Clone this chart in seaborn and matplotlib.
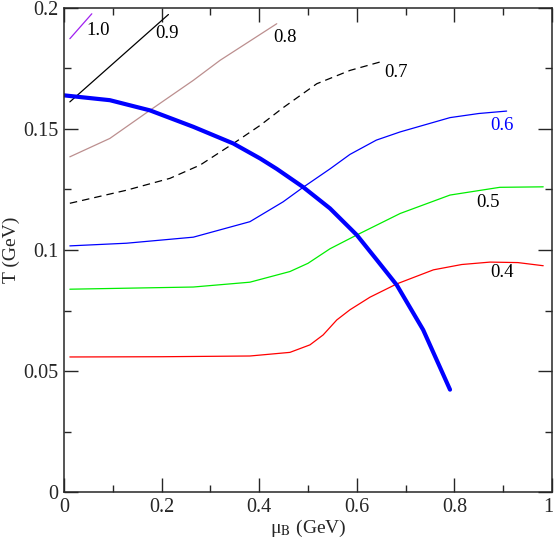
import pandas as pd
import matplotlib
matplotlib.use("Agg")
import matplotlib.pyplot as plt
import matplotlib.transforms as mtransforms
import seaborn as sns

# thick blue boundary curve
mu_bnd = [0.0, 0.094, 0.176, 0.265, 0.347, 0.402, 0.436, 0.49, 0.545, 0.600, 0.641, 0.682, 0.736, 0.791]
T_bnd = [0.1639, 0.1619, 0.1577, 0.1509, 0.1440, 0.1378, 0.1335, 0.1260, 0.1172, 0.1062, 0.0959, 0.0855, 0.0670, 0.0423]

# contour lines
mu_04 = [0.012, 0.2, 0.381, 0.463, 0.504, 0.531, 0.559, 0.586, 0.627, 0.682, 0.757, 0.815, 0.873, 0.930, 0.982]
T_04 = [0.0558, 0.0559, 0.0562, 0.0577, 0.0608, 0.0649, 0.0711, 0.0753, 0.0805, 0.0860, 0.0918, 0.0940, 0.0950, 0.0948, 0.0935]

mu_05 = [0.012, 0.265, 0.381, 0.463, 0.50, 0.545, 0.600, 0.689, 0.791, 0.893, 0.982]
T_05 = [0.0838, 0.0847, 0.0867, 0.0911, 0.0945, 0.1005, 0.1062, 0.1151, 0.1227, 0.1259, 0.1261]

mu_06 = [0.012, 0.128, 0.265, 0.381, 0.449, 0.490, 0.545, 0.586, 0.640, 0.689, 0.791, 0.850, 0.907]
T_06 = [0.1017, 0.1028, 0.1053, 0.1117, 0.1199, 0.1259, 0.1335, 0.1395, 0.1454, 0.1488, 0.1547, 0.1564, 0.1574]

mu_07 = [0.012, 0.128, 0.217, 0.279, 0.347, 0.402, 0.449, 0.518, 0.586, 0.648]
T_07 = [0.1193, 0.1247, 0.1296, 0.1351, 0.1440, 0.1515, 0.1588, 0.1687, 0.1742, 0.1777]

mu_08 = [0.012, 0.094, 0.176, 0.265, 0.320, 0.436]
T_08 = [0.1385, 0.1461, 0.1577, 0.1701, 0.1784, 0.1935]

mu_09 = [0.012, 0.214]
T_09 = [0.1612, 0.1973]

mu_10 = [0.012, 0.057]
T_10 = [0.1873, 0.1976]

labels = ["0.4", "0.5", "0.6", "0.7", "0.8", "0.9", "1.0"]
label_x = [0.873, 0.844, 0.873, 0.656, 0.429, 0.186, 0.046]
label_y = [0.0908, 0.1197, 0.1515, 0.1735, 0.1877, 0.1893, 0.1907]
label_col = ["black", "black", "#0000ff", "black", "black", "black", "black"]

sns.set_style("ticks")
plt.rcParams['font.family'] = ['Liberation Serif', 'DejaVu Serif']
plt.rcParams['mathtext.fontset'] = 'stix'

fig, ax = plt.subplots(figsize=(5.54, 5.43), dpi=100)
fig.subplots_adjust(left=0.1155, right=0.9964, top=0.9853, bottom=0.0939)

curves = [
    (mu_04, T_04, "#ff0000"),
    (mu_05, T_05, "#00ee00"),
    (mu_06, T_06, "#0000ff"),
    (mu_07, T_07, "black"),
    (mu_08, T_08, "#bc8f8f"),
    (mu_09, T_09, "black"),
    (mu_10, T_10, "#a020f0"),
]
for mu, T, col in curves:
    sns.lineplot(x=mu, y=T, ax=ax, color=col, linewidth=0.9, sort=False)
ax.lines[3].set_dashes((6, 4))

sns.lineplot(x=mu_bnd, y=T_bnd, ax=ax, color="#0000ff", linewidth=3, sort=False)
for ln in ax.lines:
    ln.set_solid_joinstyle("round")

for txt, x, y, c in zip(labels, label_x, label_y, label_col):
    ax.text(x, y, txt, color=c, fontsize=13.5, va="center", ha="left")

ax.set_xlim(0, 1)
ax.set_ylim(0, 0.2)
ax.set_xticks([0, 0.2, 0.4, 0.6, 0.8, 1.0])
ax.set_xticklabels(["0", "0.2", "0.4", "0.6", "0.8", "1"])
ax.set_xticks([0.1, 0.3, 0.5, 0.7, 0.9], minor=True)
ax.set_yticks([0, 0.05, 0.1, 0.15, 0.2])
ax.set_yticklabels(["0", "0.05", "0.1", "0.15", "0.2"])
ax.set_yticks([0.025, 0.075, 0.125, 0.175], minor=True)
ax.tick_params(which="both", direction="in", top=True, right=True, labelsize=14.5, width=1)
ax.tick_params(which="major", length=10, pad=4)
ax.tick_params(which="minor", length=5)
for s in ax.spines.values():
    s.set_linewidth(1.1)

# keep the last x tick label inside the canvas
last = ax.get_xticklabels()[-1]
last.set_transform(last.get_transform() + mtransforms.ScaledTranslation(-0.04, 0, fig.dpi_scale_trans))

ax.set_xlabel("μ$_{\\rm B}$ (GeV)", fontsize=14, labelpad=1)
ax.set_ylabel("T (GeV)", fontsize=14, labelpad=2)

fig.savefig("out.png", dpi=100)
